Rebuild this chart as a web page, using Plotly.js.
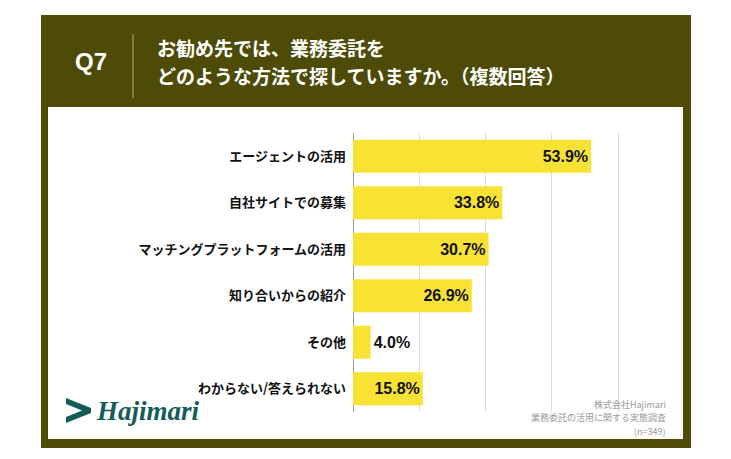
<!DOCTYPE html>
<html>
<head>
<meta charset="utf-8">
<script src="https://cdn.plot.ly/plotly-3.0.1.min.js"></script>
<style>html,body{margin:0;padding:0;background:#fff;}#chart{width:731px;height:459px;}</style>
</head>
<body>
<div id="chart"></div>
<script>
// ---- data ----
const categories = [
  "エージェントの活用",
  "自社サイトでの募集",
  "マッチングプラットフォームの活用",
  "知り合いからの紹介",
  "その他",
  "わからない/答えられない"
];
const values = [53.9, 33.8, 30.7, 26.9, 4.0, 15.8];
const questionLabel = "Q7";
const titleLines = ["お勧め先では、業務委託を", "どのような方法で探していますか。（複数回答）"];
const sourceLines = ["株式会社Hajimari", "業務委託の活用に関する実態調査", "(n=349)"];
const logoText = "Hajimari";

// ---- layout helpers ----
const W = 731, H = 459;
const M = {l: 353, r: 60, t: 133, b: 47};
const PW = W - M.l - M.r, PH = H - M.t - M.b;
const xp = x => (x - M.l) / PW;
const yp = y => (H - M.b - y) / PH;

const JP = '"Noto Sans CJK JP", "Noto Sans", sans-serif';
const olive = '#4d4b06';
const teal = '#145c58';

const trace = {
  type: 'bar',
  orientation: 'h',
  y: categories,
  x: values,
  marker: {color: '#f8e234'},
  texttemplate: '%{x:.1f}%',
  textposition: values.map(v => v < 10 ? 'outside' : 'inside'),
  insidetextanchor: 'end',
  constraintext: 'none',
  cliponaxis: false,
  textfont: {family: '"Liberation Sans", Arial, sans-serif', size: 16, color: '#111', weight: 'bold'},
  hoverinfo: 'skip'
};

const shapes = [
  {type: 'rect', xref: 'paper', yref: 'paper', x0: xp(41), x1: xp(691), y0: yp(448), y1: yp(15),
   fillcolor: olive, line: {width: 0}, layer: 'below'},
  {type: 'rect', xref: 'paper', yref: 'paper', x0: xp(48), x1: xp(683), y0: yp(439), y1: yp(107),
   fillcolor: '#ffffff', line: {width: 0}, layer: 'below'},
  {type: 'line', xref: 'paper', yref: 'paper', x0: xp(133), x1: xp(133), y0: yp(34), y1: yp(98),
   line: {color: 'rgba(255,255,255,0.55)', width: 1}},
  // logo chevron
  {type: 'path', xref: 'paper', yref: 'paper',
   path: `M ${xp(66)} ${yp(398)} L ${xp(91)} ${yp(408)} L ${xp(91)} ${yp(413)} L ${xp(66)} ${yp(423)} L ${xp(66)} ${yp(417)} L ${xp(82)} ${yp(410.5)} L ${xp(66)} ${yp(404)} Z`,
   fillcolor: teal, line: {width: 0}}
];

const annotations = [
  {text: questionLabel, xref: 'paper', yref: 'paper', x: xp(91), y: yp(61), xanchor: 'center', yanchor: 'middle',
   showarrow: false, font: {family: '"Liberation Sans", Arial, sans-serif', size: 24, color: '#ffffff', weight: 'bold'}},
  {text: titleLines[0], xref: 'paper', yref: 'paper', x: xp(155), y: yp(47), xanchor: 'left', yanchor: 'middle',
   showarrow: false, font: {family: JP, size: 19, color: '#ffffff', weight: 'bold'}},
  {text: titleLines[1], xref: 'paper', yref: 'paper', x: xp(155), y: yp(75), xanchor: 'left', yanchor: 'middle',
   showarrow: false, font: {family: JP, size: 19, color: '#ffffff', weight: 'bold'}},
  {text: logoText, xref: 'paper', yref: 'paper', x: xp(94), y: yp(411), xanchor: 'left', yanchor: 'middle',
   showarrow: false, font: {family: '"Liberation Serif", serif', size: 27, color: teal, weight: 'bold', style: 'italic'}}
];
sourceLines.forEach((s, i) => {
  annotations.push({text: s, xref: 'paper', yref: 'paper', x: xp(668), y: yp(404 + i * 13.5),
    xanchor: 'right', yanchor: 'middle', showarrow: false,
    font: {family: JP, size: 9, color: '#9a9a9a'}});
});

const layout = {
  width: W, height: H,
  margin: M,
  paper_bgcolor: '#ffffff',
  plot_bgcolor: 'rgba(0,0,0,0)',
  showlegend: false,
  bargap: 0.29,
  xaxis: {
    range: [0, 72], tick0: 0, dtick: 15, showticklabels: false, ticks: '',
    showgrid: true, gridcolor: '#dcdcdc', gridwidth: 1,
    zeroline: true, zerolinecolor: '#9a9a9a', zerolinewidth: 1,
    showline: false, fixedrange: true
  },
  yaxis: {
    type: 'category', autorange: 'reversed', ticks: '', showgrid: false, zeroline: false, showline: false,
    ticklabelstandoff: 6,
    tickfont: {family: JP, size: 13, color: '#111', weight: 'bold'}, fixedrange: true
  },
  shapes: shapes,
  annotations: annotations
};

Plotly.newPlot('chart', [trace], layout, {displayModeBar: false, staticPlot: true});
</script>
</body>
</html>
